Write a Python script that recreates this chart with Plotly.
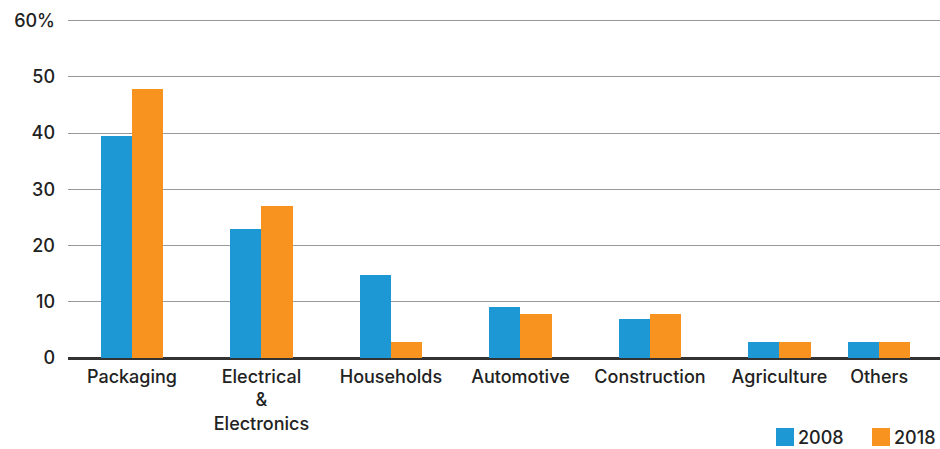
import plotly.graph_objects as go

# Share of demand by end-use sector (%)
categories = ["Packaging", "Electrical<br>&<br>Electronics", "Households",
              "Automotive", "Construction", "Agriculture", "Others"]
share_2008 = [39.5, 23, 14.7, 9, 6.9, 2.8, 2.8]
share_2018 = [47.9, 27, 2.8, 7.8, 7.8, 2.8, 2.8]
series_names = ["2008", "2018"]
y_ticks = [0, 10, 20, 30, 40, 50, 60]
y_tick_labels = ["0", "10", "20", "30", "40", "50", "60%"]

# category slot positions on the x axis (the last group sits closer)
slots = [0, 1, 2, 3, 4, 5, 5.77]
bar_w = 0.24

BLUE = "#1E98D5"
ORANGE = "#F7931E"
TEXT = "#222222"
FONT = "Inter, Roboto, Arial, sans-serif"
FS = 18

W, H = 940, 449
ML, MR, MT, MB = 68, 0, 19, 91


def px_x(px):
    return (px - ML) / (W - ML - MR)


def px_y(py):
    return (H - MB - py) / (H - MT - MB)


fig = go.Figure()
fig.add_trace(go.Bar(x=slots, y=share_2008, name=series_names[0], marker_color=BLUE,
                     width=bar_w, offset=-bar_w, marker_line_width=0))
fig.add_trace(go.Bar(x=slots, y=share_2018, name=series_names[1], marker_color=ORANGE,
                     width=bar_w, offset=0, marker_line_width=0))

# legend: coloured squares with year labels, bottom right
legend_items = [(776, BLUE, series_names[0]), (872, ORANGE, series_names[1])]
for x0, color, label in legend_items:
    fig.add_shape(type="rect", xref="paper", yref="paper",
                  x0=px_x(x0), x1=px_x(x0 + 18), y0=px_y(446), y1=px_y(428),
                  fillcolor=color, line_width=0)
    fig.add_annotation(xref="paper", yref="paper", x=px_x(x0 + 20), y=px_y(437),
                       text=label, showarrow=False, xanchor="left", yanchor="middle",
                       font=dict(family=FONT, size=FS, color=TEXT, weight=500))

fig.update_layout(
    width=W, height=H,
    margin=dict(l=ML, r=MR, t=MT, b=MB, autoexpand=False),
    plot_bgcolor="white", paper_bgcolor="white",
    font=dict(family=FONT, size=FS, color=TEXT, weight=500),
    showlegend=False,
    bargap=0,
)
fig.update_xaxes(
    range=[-0.494, 6.24],
    tickvals=slots, ticktext=categories,
    showgrid=False, zeroline=False, showline=False,
    ticks="", automargin=False, ticklabelstandoff=6,
    tickfont=dict(family=FONT, size=FS, color=TEXT, weight=500),
)
fig.update_yaxes(
    range=[0, 60.3],
    tickvals=y_ticks, ticktext=y_tick_labels,
    showgrid=True, gridcolor="#999999", gridwidth=1,
    zeroline=True, zerolinecolor="#333333", zerolinewidth=2.5,
    showline=False, ticks="", ticklabelstandoff=12, automargin=False,
    tickfont=dict(family=FONT, size=FS, color=TEXT, weight=500),
)

fig.write_html("out.html")
